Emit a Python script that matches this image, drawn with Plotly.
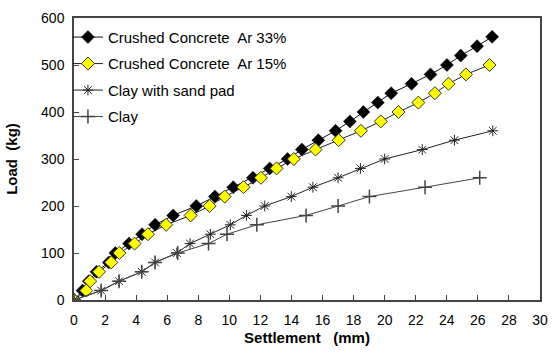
import plotly.graph_objects as go

# Load steps (kg) and measured settlement (mm) for each foundation case
load_cc33 = list(range(0, 561, 20))
settle_cc33 = [0, 0.55, 0.95, 1.45, 2.24, 2.66, 3.54, 4.38, 5.22, 6.38, 7.87, 9.07,
               10.25, 11.52, 12.6, 13.75, 14.67, 15.73, 16.84, 17.76, 18.63, 19.56,
               20.42, 21.73, 22.95, 24.01, 24.9, 25.95, 26.92]

load_cc15 = list(range(0, 501, 20))
settle_cc15 = [0, 0.79, 1.04, 1.61, 2.4, 2.92, 3.9, 4.76, 5.93, 7.51, 8.73, 9.7,
               10.91, 12.03, 13.04, 14.15, 15.55, 17.04, 18.47, 19.75, 20.89, 22.17,
               23.23, 24.11, 25.23, 26.75]

load_sand = list(range(0, 361, 20))
settle_sand = [0, 1.75, 2.9, 4.36, 5.22, 6.62, 7.47, 8.78, 10.06, 11.1, 12.28, 13.99,
               15.38, 17.0, 18.44, 20.0, 22.42, 24.49, 26.96]

load_clay = list(range(0, 261, 20))
settle_clay = [0, 1.75, 2.9, 4.36, 5.22, 6.68, 8.66, 9.85, 11.77, 14.94, 17.0, 19.02,
               22.6, 26.12]

x_ticks = list(range(0, 31, 2))
y_ticks = list(range(0, 601, 100))

FONT = "Liberation Sans, Arial, sans-serif"
NB = "\u00a0"

fig = go.Figure()

fig.add_trace(go.Scatter(
    x=settle_cc33, y=load_cc33, mode="lines+markers",
    name=f"Crushed Concrete{NB} Ar 33%", legendgroup="a",
    line=dict(color="#111111", width=1),
    marker=dict(symbol="diamond", size=10, color="black",
                line=dict(color="black", width=0.5)),
))
fig.add_trace(go.Scatter(
    x=settle_cc15, y=load_cc15, mode="lines+markers",
    name=f"Crushed Concrete{NB} Ar 15%", legendgroup="b",
    line=dict(color="#222222", width=1),
    marker=dict(symbol="diamond", size=10, color="#FFFF00",
                line=dict(color="#333333", width=1)),
))
fig.add_trace(go.Scatter(
    x=settle_sand, y=load_sand, mode="lines+markers",
    name="Clay with sand pad", legendgroup="c",
    line=dict(color="#222222", width=1),
    marker=dict(symbol="asterisk-open", size=9,
                line=dict(color="#333333", width=1)),
))
fig.add_trace(go.Scatter(
    x=settle_clay, y=load_clay, mode="lines+markers",
    name="Clay", legendgroup="d",
    line=dict(color="#444444", width=1),
    marker=dict(symbol="cross-thin-open", size=10,
                line=dict(color="black", width=1.5)),
))

axis_common = dict(
    showgrid=False, zeroline=False, showline=True, mirror=True,
    linecolor="#444444", linewidth=1.5,
    ticks="inside", ticklen=5, tickcolor="#444444", tickwidth=1,
    tickfont=dict(family=FONT, size=14, color="black"),
)

fig.update_xaxes(
    range=[0, 30], tickmode="array", tickvals=x_ticks,
    ticktext=[str(v) for v in x_ticks], ticklabelstandoff=6,
    title=dict(text=f"<b>Settlement{NB}{NB}{NB}(mm)</b>", standoff=6,
               font=dict(family=FONT, size=15, color="black")),
    **axis_common,
)
fig.update_yaxes(
    range=[0, 600], tickmode="array", tickvals=y_ticks,
    ticktext=[str(v) for v in y_ticks], ticklabelstandoff=5,
    title=dict(text=f"<b>Load{NB}{NB}(kg)</b>", standoff=20,
               font=dict(family=FONT, size=15, color="black")),
    **axis_common,
)

fig.update_layout(
    width=558, height=354,
    margin=dict(l=74, r=10, t=16, b=54),
    paper_bgcolor="white", plot_bgcolor="white",
    font=dict(family=FONT, size=14, color="black"),
    legend=dict(
        x=-0.013, y=0.99, xanchor="left", yanchor="top",
        bgcolor="rgba(0,0,0,0)", borderwidth=0,
        tracegroupgap=4, itemwidth=30,
        font=dict(family=FONT, size=15, color="black"),
    ),
)

fig.write_html("out.html")
